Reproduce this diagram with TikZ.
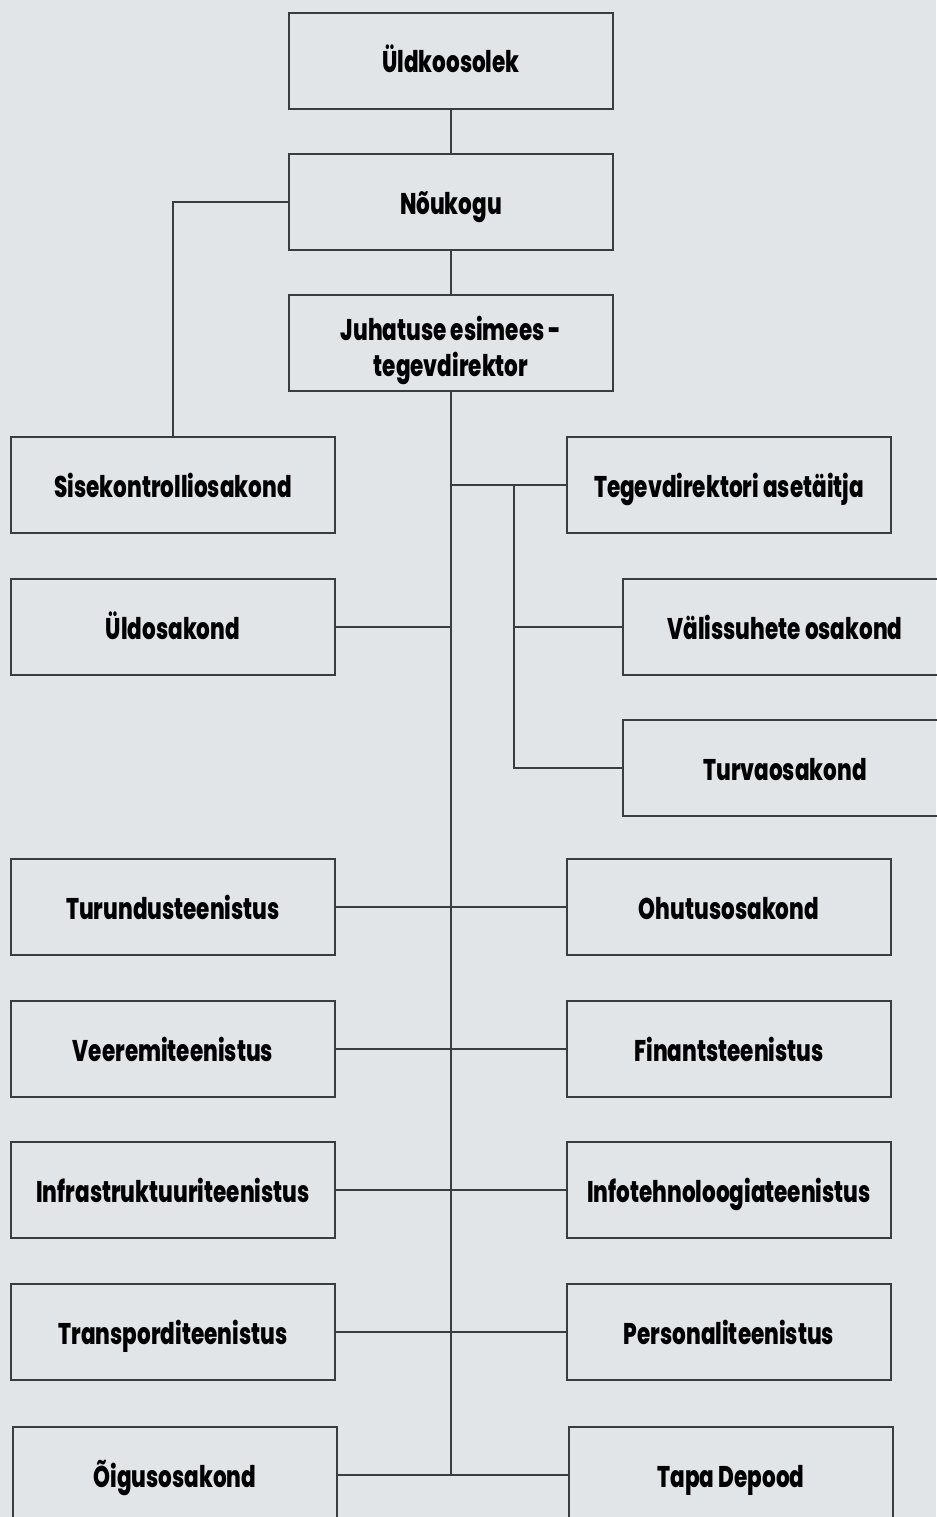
\documentclass[tikz,border=0pt]{standalone}
\usepackage{fontspec}
\setmainfont[FakeStretch=0.72,BoldFont={Poppins ExtraBold}]{Poppins}
\usetikzlibrary{positioning,calc}
\definecolor{bggray}{HTML}{E2E5E8}
\definecolor{lgray}{HTML}{3A3D40}

\begin{document}
\begin{tikzpicture}[
  x=1bp,y=-1bp,
  box/.style={draw=lgray,line width=1.8bp,minimum width=324bp,minimum height=96bp,
    align=center,inner sep=2pt,font=\fontsize{30}{36}\selectfont\bfseries,
    text height=24bp,text depth=0bp},
  link/.style={lgray,line width=1.5bp}]

\useasboundingbox[fill=bggray] (0,0) rectangle (936,1517);

% ---------- top: governing bodies ----------
\node[box] (uld) at (451,61)  {Üldkoosolek};
\node[box] (nou) at (451,202) {Nõukogu};
\node[box,text height=71bp,text depth=5bp] (juh) at (451,343) {Juhatuse esimees -\\tegevdirektor};
\draw[link] (uld) -- (nou);
\draw[link] (nou) -- (juh);

% ---------- left column ----------
\node[box] (sise)   at (173,485)  {Sisekontrolliosakond};
\node[box] (uldos)  at (173,627)  {Üldosakond};
\node[box] (turund) at (173,907)  {Turundusteenistus};
\node[box] (veerem) at (173,1049) {Veeremiteenistus};
\node[box] (infra)  at (173,1190) {Infrastruktuuriteenistus};
\node[box] (transp) at (173,1332) {Transporditeenistus};
\node[box] (oigus)  at (175,1475) {Õigusosakond};

% ---------- right column ----------
\node[box] (aset)     at (729,485)  {Tegevdirektori asetäitja};
\node[box] (valis)    at (785,627)  {Välissuhete osakond};
\node[box] (turva)    at (785,768)  {Turvaosakond};
\node[box] (ohutus)   at (729,907)  {Ohutusosakond};
\node[box] (finants)  at (729,1049) {Finantsteenistus};
\node[box] (info)     at (729,1190) {Infotehnoloogiateenistus};
\node[box] (personal) at (729,1332) {Personaliteenistus};
\node[box] (tapa)     at (731,1475) {Tapa Depood};

% ---------- connectors ----------
\draw[link] (sise.north) |- (nou.west);
\coordinate (trunkend) at (juh.south |- tapa.west);
\draw[link] (juh.south) -- (trunkend);
\draw[link] (juh.south |- aset.west) -- (aset.west);
\coordinate (br) at (514,485);
\draw[link] (br) -- (br |- turva.west) -- (turva.west);
\draw[link] (br |- valis.west) -- (valis.west);
\draw[link] (uldos.east) -- (juh.south |- uldos.east);
\draw[link] (turund) -- (ohutus);
\draw[link] (veerem) -- (finants);
\draw[link] (infra) -- (info);
\draw[link] (transp) -- (personal);
\draw[link] (oigus) -- (tapa);
\end{tikzpicture}
\end{document}
